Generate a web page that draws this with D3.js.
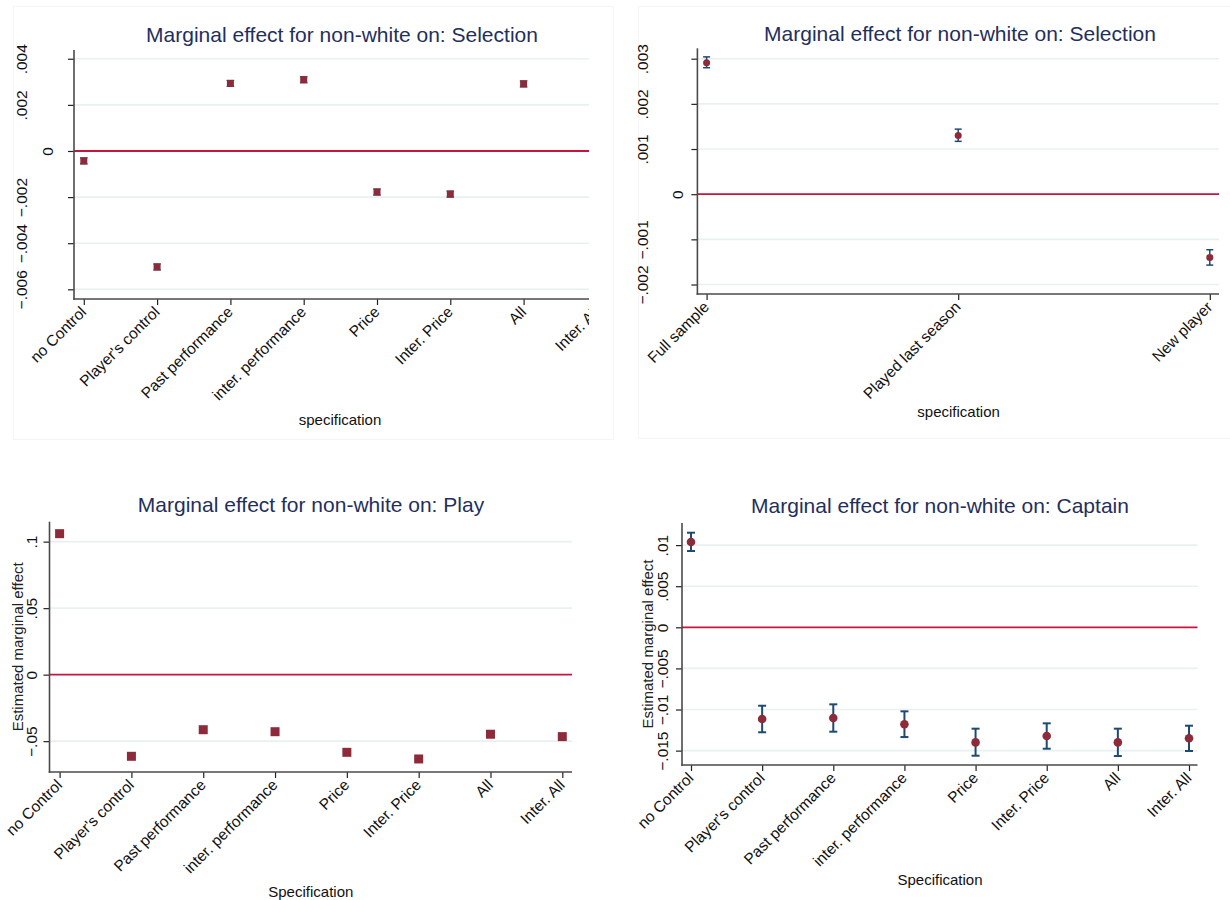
<!DOCTYPE html>
<html>
<head>
<meta charset="utf-8">
<script src="https://cdn.jsdelivr.net/npm/d3@7"></script>
<style>
  html, body { margin: 0; padding: 0; background: #ffffff; }
  svg { display: block; font-family: "Liberation Sans", Arial, sans-serif; }
</style>
</head>
<body>
<script>
// ---- Data ---------------------------------------------------------------
const specCategories = ["no Control", "Player's control", "Past performance", "inter. performance",
                        "Price", "Inter. Price", "All", "Inter. All"];
const sampleCategories = ["Full sample", "Played last season", "New player"];

// Selection, by specification (last specification falls outside the plotted area)
const selSpecValues = [-0.00043, -0.00503, 0.00293, 0.00309, -0.00178, -0.00187, 0.00291, null];
const selSpecLower  = [-0.00056, -0.00516, 0.00280, 0.00296, -0.00191, -0.00200, 0.00278, null];
const selSpecUpper  = [-0.00030, -0.00490, 0.00306, 0.00322, -0.00165, -0.00174, 0.00304, null];
const selSpecTicks  = [-0.006, -0.004, -0.002, 0, 0.002, 0.004];
const selSpecTickLabels = ["\u2212.006", "\u2212.004", "\u2212.002", "0", ".002", ".004"];

// Selection, by sample
const selSampleValues = [0.00291, 0.00130, -0.00140];
const selSampleLower  = [0.00280, 0.00117, -0.00157];
const selSampleUpper  = [0.00304, 0.00144, -0.00123];
const selSampleTicks  = [-0.002, -0.001, 0, 0.001, 0.002, 0.003];
const selSampleTickLabels = ["\u2212.002", "\u2212.001", "0", ".001", ".002", ".003"];

// Play, by specification
const playValues = [0.1060, -0.0614, -0.0414, -0.0429, -0.0584, -0.0634, -0.0448, -0.0466];
const playLower  = [0.1045, -0.0629, -0.0429, -0.0444, -0.0599, -0.0649, -0.0463, -0.0481];
const playUpper  = [0.1075, -0.0599, -0.0399, -0.0414, -0.0569, -0.0619, -0.0433, -0.0451];
const playTicks  = [-0.05, 0, 0.05, 0.1];
const playTickLabels = ["\u2212.05", "0", ".05", ".1"];

// Captain, by specification
const captainValues = [0.01038, -0.01116, -0.01103, -0.01180, -0.01400, -0.01322, -0.01400, -0.01350];
const captainLower  = [0.00928, -0.01277, -0.01270, -0.01335, -0.01562, -0.01477, -0.01566, -0.01505];
const captainUpper  = [0.01151, -0.00954, -0.00937, -0.01022, -0.01233, -0.01168, -0.01233, -0.01197];
const captainTicks  = [-0.015, -0.01, -0.005, 0, 0.005, 0.01];
const captainTickLabels = ["\u2212.015", "\u2212.01", "\u2212.005", "0", ".005", ".01"];

// ---- Style --------------------------------------------------------------
const TITLE_COLOR = "#1f2f5e";
const MARKER_COLOR = "#8e2b3b";
const CI_COLOR = "#1d4a72";
const ZERO_COLOR = "#c8143c";
const GRID_COLOR = "#e9f0f1";
const AXIS_COLOR = "#4a4a4a";

const svg = d3.select("body").append("svg")
  .attr("width", 1230).attr("height", 900);

// faint frames around the two upper graphs
svg.append("rect").attr("x", 13.5).attr("y", 6.5).attr("width", 600).attr("height", 433)
  .attr("fill", "none").attr("stroke", "#f5f5f5");
svg.append("rect").attr("x", 638.5).attr("y", 6.5).attr("width", 600).attr("height", 432)
  .attr("fill", "none").attr("stroke", "#f5f5f5");

function drawPanel(p) {
  const g = svg.append("g");
  if (p.clipRight) {
    const id = "clip-" + p.id;
    svg.append("clipPath").attr("id", id)
      .append("rect").attr("x", 0).attr("y", 0).attr("width", p.clipRight).attr("height", 900);
    g.attr("clip-path", `url(#${id})`);
  }

  const x = d3.scalePoint().domain(p.categories).range(p.xRange);
  const y = d3.scaleLinear().domain(p.yDomain).range([p.bottom, p.top]);

  // horizontal grid at each labelled tick
  g.append("g").selectAll("line")
    .data(p.ticks.filter(t => t !== 0))
    .join("line")
      .attr("x1", p.left).attr("x2", p.right)
      .attr("y1", d => y(d)).attr("y2", d => y(d))
      .attr("stroke", GRID_COLOR).attr("stroke-width", 1.6);

  // reference line at zero
  g.append("line")
    .attr("x1", p.left).attr("x2", p.right)
    .attr("y1", y(0)).attr("y2", y(0))
    .attr("stroke", ZERO_COLOR).attr("stroke-width", 1.8);

  // y axis
  const yAxis = d3.axisLeft(y)
    .tickValues(p.ticks)
    .tickFormat((d, i) => p.tickLabels[i])
    .tickSize(6).tickSizeOuter(0);
  const ya = g.append("g").attr("transform", `translate(${p.left},0)`).call(yAxis);
  ya.select(".domain").remove();
  ya.selectAll(".tick line").attr("stroke", "#222").attr("stroke-width", 1.2);
  ya.selectAll(".tick text")
    .attr("x", null).attr("dy", null)
    .attr("fill", "#111")
    .attr("font-size", p.tickFont)
    .attr("text-anchor", "middle")
    .attr("transform", d => `translate(${-(d === 0 ? p.zeroLabelOffset : p.labelOffset)},0) rotate(-90)`);

  // x axis
  const xAxis = d3.axisBottom(x).tickSize(6).tickSizeOuter(0);
  const xa = g.append("g").attr("transform", `translate(0,${p.bottom})`).call(xAxis);
  xa.select(".domain").remove();
  xa.selectAll(".tick line").attr("stroke", "#222").attr("stroke-width", 1.2);
  xa.selectAll(".tick text")
    .attr("y", null).attr("dy", null)
    .attr("fill", "#111")
    .attr("font-size", p.xTickFont)
    .attr("text-anchor", "end")
    .attr("transform", `translate(3,14) rotate(-45)`);

  // axis lines
  g.append("line").attr("x1", p.left).attr("x2", p.left)
    .attr("y1", p.top).attr("y2", p.bottom + 0.8)
    .attr("stroke", AXIS_COLOR).attr("stroke-width", 1.6);
  g.append("line").attr("x1", p.left - 0.8).attr("x2", p.right)
    .attr("y1", p.bottom).attr("y2", p.bottom)
    .attr("stroke", AXIS_COLOR).attr("stroke-width", 1.6);

  const rows = p.categories.map((c, i) => ({ c, v: p.values[i], lo: p.lower[i], hi: p.upper[i] }))
    .filter(r => r.v !== null);

  // confidence intervals with caps
  const ci = g.append("g").attr("stroke", CI_COLOR).attr("stroke-width", p.ciWidth).attr("fill", "none");
  ci.selectAll("line.stem").data(rows).join("line").attr("class", "stem")
    .attr("x1", d => x(d.c)).attr("x2", d => x(d.c))
    .attr("y1", d => y(d.lo)).attr("y2", d => y(d.hi));
  ci.selectAll("line.capl").data(rows).join("line").attr("class", "capl")
    .attr("x1", d => x(d.c) - p.capHalf).attr("x2", d => x(d.c) + p.capHalf)
    .attr("y1", d => y(d.lo)).attr("y2", d => y(d.lo));
  ci.selectAll("line.caph").data(rows).join("line").attr("class", "caph")
    .attr("x1", d => x(d.c) - p.capHalf).attr("x2", d => x(d.c) + p.capHalf)
    .attr("y1", d => y(d.hi)).attr("y2", d => y(d.hi));

  // point estimates
  if (p.marker === "square") {
    g.append("g").selectAll("rect").data(rows).join("rect")
      .attr("x", d => x(d.c) - p.markerSize / 2)
      .attr("y", d => y(d.v) - p.markerSize / 2)
      .attr("width", p.markerSize).attr("height", p.markerSize)
      .attr("fill", MARKER_COLOR);
  } else {
    g.append("g").selectAll("circle").data(rows).join("circle")
      .attr("cx", d => x(d.c)).attr("cy", d => y(d.v))
      .attr("r", p.markerSize / 2)
      .attr("fill", MARKER_COLOR);
  }

  // titles
  svg.append("text")
    .attr("x", p.titleX).attr("y", p.titleY)
    .attr("text-anchor", "middle")
    .attr("font-size", 21).attr("fill", TITLE_COLOR)
    .text(p.title);
  svg.append("text")
    .attr("x", p.xTitleX).attr("y", p.xTitleY)
    .attr("text-anchor", "middle")
    .attr("font-size", 15).attr("fill", "#111")
    .text(p.xTitle);
  if (p.yTitle) {
    svg.append("text")
      .attr("transform", `translate(${p.yTitleX},${(p.top + p.bottom) / 2}) rotate(-90)`)
      .attr("text-anchor", "middle")
      .attr("font-size", 15).attr("fill", "#222")
      .text(p.yTitle);
  }
}

drawPanel({
  id: "sel-spec",
  categories: specCategories, values: selSpecValues, lower: selSpecLower, upper: selSpecUpper,
  ticks: selSpecTicks, tickLabels: selSpecTickLabels,
  left: 74, right: 600, top: 50, bottom: 299, clipRight: 589,
  xRange: [83.8, 596.9], yDomain: [-0.00642, 0.00438],
  labelOffset: 47, zeroLabelOffset: 21, tickFont: 15.5, xTickFont: 15.5,
  marker: "square", markerSize: 7, ciWidth: 1.2, capHalf: 3.8,
  title: "Marginal effect for non-white on: Selection", titleX: 342, titleY: 41.5,
  xTitle: "specification", xTitleX: 340, xTitleY: 425
});

drawPanel({
  id: "sel-sample",
  categories: sampleCategories, values: selSampleValues, lower: selSampleLower, upper: selSampleUpper,
  ticks: selSampleTicks, tickLabels: selSampleTickLabels,
  left: 697.4, right: 1219, top: 48.3, bottom: 294,
  xRange: [706.6, 1209.8], yDomain: [-0.00221, 0.00323],
  labelOffset: 49, zeroLabelOffset: 14, tickFont: 15.5, xTickFont: 15.5,
  marker: "circle", markerSize: 7, ciWidth: 1.5, capHalf: 3.5,
  title: "Marginal effect for non-white on: Selection", titleX: 960, titleY: 40.5,
  xTitle: "specification", xTitleX: 958.6, xTitleY: 417
});

drawPanel({
  id: "play",
  categories: specCategories, values: playValues, lower: playLower, upper: playUpper,
  ticks: playTicks, tickLabels: playTickLabels,
  left: 49.5, right: 572, top: 521.7, bottom: 772,
  xRange: [59.6, 562.3], yDomain: [-0.0732, 0.115],
  labelOffset: 12.5, zeroLabelOffset: 12.5, tickFont: 15.5, xTickFont: 15.5,
  marker: "square", markerSize: 9, ciWidth: 1.2, capHalf: 3,
  title: "Marginal effect for non-white on: Play", titleX: 311, titleY: 511.5,
  xTitle: "Specification", xTitleX: 310.8, xTitleY: 897,
  yTitle: "Estimated marginal effect", yTitleX: 23
});

drawPanel({
  id: "captain",
  categories: specCategories, values: captainValues, lower: captainLower, upper: captainUpper,
  ticks: captainTicks, tickLabels: captainTickLabels,
  left: 682, right: 1197.5, top: 523, bottom: 765,
  xRange: [691, 1189], yDomain: [-0.01675, 0.01269],
  labelOffset: 14, zeroLabelOffset: 14, tickFont: 15.5, xTickFont: 15.5,
  marker: "circle", markerSize: 8.6, ciWidth: 2, capHalf: 4,
  title: "Marginal effect for non-white on: Captain", titleX: 940, titleY: 513.3,
  xTitle: "Specification", xTitleX: 940, xTitleY: 885,
  yTitle: "Estimated marginal effect", yTitleX: 653
});
</script>
</body>
</html>
